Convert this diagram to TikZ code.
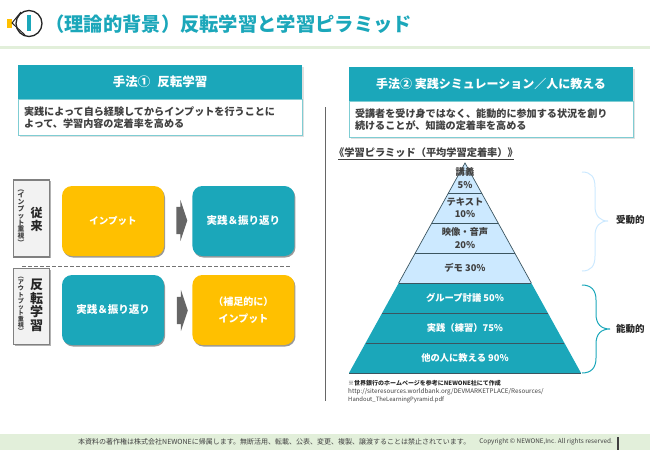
\documentclass[tikz,border=0pt]{standalone}
\usepackage{fontspec}
\setmainfont{Noto Sans CJK JP}
\usetikzlibrary{positioning,shapes.arrows,shadows}
\definecolor{teal1}{HTML}{1BA7BA}
\definecolor{teal2}{HTML}{7FCDD3}
\definecolor{gold1}{HTML}{FFC000}
\definecolor{pale1}{HTML}{CCE9FF}
\definecolor{foot1}{HTML}{E2EFDA}
\definecolor{ink1}{HTML}{404040}
\definecolor{edge1}{HTML}{3B5560}
\newcommand{\fs}[1]{\fontsize{#1}{#1}\selectfont}
\tikzset{
	headbox/.style={fill=teal1,text=white,font=\fs{12}\bfseries,minimum width=284pt,minimum height=34pt,inner sep=0pt,general shadow={shadow xshift=1.5pt,shadow yshift=-1.5pt,fill=black!12}},
	bodybox/.style={draw=teal2,line width=.7pt,fill=white,text=ink1,font=\fs{10.1}\bfseries,minimum width=284pt,minimum height=36pt,inner sep=0pt,align=left,text width=272pt,general shadow={shadow xshift=1.5pt,shadow yshift=-1.5pt,fill=black!12}},
	tile/.style={rounded corners=10pt,text=white,font=\fs{10.5}\bfseries,minimum width=102pt,minimum height=70pt,inner sep=0pt,align=center,general shadow={shadow xshift=1pt,shadow yshift=-1.5pt,fill=black!40}},
	sidebox/.style={draw=black!50,line width=1.5pt,fill=black!5,minimum width=36pt,inner sep=0pt,general shadow={shadow xshift=1pt,shadow yshift=-1pt,fill=black!30}},
	stepto/.style={single arrow,fill=black!60,minimum height=11pt,minimum width=41pt,single arrow head extend=7pt,single arrow tip angle=143,inner sep=0pt},
	pyr/.style={font=\fs{9.3}\bfseries,text=ink1,align=center,inner sep=0pt},
	pyrw/.style={font=\fs{9.3}\bfseries,text=white,align=center,inner sep=0pt},
}
\begin{document}
\begin{tikzpicture}[x=1pt,y=-1pt]
	\useasboundingbox (0,0) rectangle (650,450);

	% title
	\fill [gold1] (7,19) rectangle (12,28);
	\draw [line width=1.3pt,black!85] (29,23.5) circle (13);
	\draw [line width=1pt,black!85] (21,12)--(12,23)--(25,35);
	\fill [teal1] (27,15) rectangle (31,31);
	\node [anchor=west,inner sep=0pt,text=teal1,font=\fs{19.3}\bfseries] (title) at (45,24) {（理論的背景）反転学習と学習ピラミッド};
	\fill [foot1] (0,46) rectangle (650,49);

	% left column
	\node [headbox,font=\fs{12.5}\bfseries] (head1) at (160,82) {手法①\hspace{7pt}反転学習};
	\node [bodybox,below=0pt of head1] (body1) {実践によって自ら経験してからインプットを行うことに\\[2pt]よって、学習内容の定着率を高める};

	\node [sidebox,minimum height=77pt] (old) at (31.5,218.5) {};
	\node [align=center,inner sep=0pt,text=ink1,font=\fs{6.8}\bfseries] (oldsub) at (21,217.5) {︵\\イ\\ン\\プ\\ッ\\ト\\重\\視\\︶};
	\node [align=center,inner sep=0pt,text=black!85,font=\fs{12}\bfseries] (oldname) at (36.5,219) {従\\[1pt]来};
	\node [tile,fill=gold1,font=\fs{9.5}\bfseries] (input1) at (113,221) {インプット};
	\node [tile,fill=teal1,right=28pt of input1] (prac1) {実践＆振り返り};
	\node [stepto] (go1) at (179.5,220.5) {\rule{0pt}{27pt}};

	\draw [dash pattern=on 4pt off 2pt,line width=.8pt,black!55] (22,266)--(290,266);

	\node [sidebox,minimum height=76pt] (new) at (31.5,306.5) {};
	\node [align=center,inner sep=0pt,text=ink1,font=\fs{6.1}\bfseries] (newsub) at (21,305.5) {︵\\ア\\ウ\\ト\\プ\\ッ\\ト\\重\\視\\︶};
	\node [align=center,inner sep=0pt,text=black!85,font=\fs{13}\bfseries] (newname) at (36.5,305.5) {反\\[.7pt]転\\[.7pt]学\\[.7pt]習};
	\node [tile,fill=teal1] (prac2) at (113,310) {実践＆振り返り};
	\node [tile,fill=gold1,right=28pt of prac2,font=\fs{10}\bfseries] (input2) {（補足的に）\\[7pt]インプット};
	\node [stepto] (go2) at (180,310.5) {\rule{0pt}{27pt}};

	\draw [line width=.8pt,black!60] (325,107)--(325,401);

	% right column
	\node [headbox] (head2) at (491,84) {手法② 実践シミュレーション／人に教える};
	\node [bodybox,below=0pt of head2] (body2) {受講者を受け身ではなく、能動的に参加する状況を創り\\[2pt]続けることが、知識の定着率を高める};

	\node [anchor=west,inner sep=1pt,text=ink1,font=\fs{10.2}\bfseries] (pyrtitle) at (333,153) {《学習ピラミッド（平均学習定着率）》};
	\draw [line width=.5pt,ink1] ([xshift=5pt]pyrtitle.south west)--([xshift=-5pt]pyrtitle.south east);

	% pyramid
	\fill [pale1] (465,163)--(531.3,283)--(398.7,283)--cycle;
	\fill [teal1] (398.7,283)--(531.3,283)--(581,373)--(349,373)--cycle;
	\draw [line width=.7pt,edge1] (398.7,283)--(465,163)--(531.3,283);
	\foreach \ya/\xa/\xb in {193/448.4/481.6,223/431.9/498.1,253/415.3/514.7,283/398.7/531.3,313/382.2/547.8,343/365.6/564.4,373/349/581}
		\draw [line width=.8pt,edge1] (\xa,\ya)--(\xb,\ya);

	\node [pyr] (lv1) at (465,178) {講義\\[3pt]5\%};
	\node [pyr] (lv2) at (465,208) {テキスト\\[3pt]10\%};
	\node [pyr] (lv3) at (465,238) {映像・音声\\[3pt]20\%};
	\node [pyr] (lv4) at (465,268) {デモ 30\%};
	\node [pyrw] (lv5) at (465,298) {グループ討議 50\%};
	\node [pyrw] (lv6) at (465,328) {実践（練習）75\%};
	\node [pyrw] (lv7) at (465,358) {他の人に教える 90\%};

	% braces
	\draw [line width=1pt,pale1] (582,172) .. controls (591,172) and (595,177) .. (595,187)--(595,206) .. controls (595,216) and (600,221) .. (608,221) .. controls (600,221) and (595,226) .. (595,236)--(595,256) .. controls (595,266) and (591,271) .. (582,271);
	\draw [line width=1pt,teal1] (582,285) .. controls (591,285) and (596,290) .. (596,300)--(596,314) .. controls (596,324) and (601,329) .. (610,329) .. controls (601,329) and (596,334) .. (596,344)--(596,358) .. controls (596,368) and (591,373) .. (582,373);
	\node [anchor=west,inner sep=0pt,font=\fs{9.5}\bfseries,text=black!85] (passive) at (616,220) {受動的};
	\node [anchor=west,inner sep=0pt,font=\fs{9.5}\bfseries,text=black!85] (active) at (616,329) {能動的};

	% note
	\node [anchor=west,inner sep=0pt,font=\fs{6}\bfseries,text=black!85] (note1) at (348,383) {※世界銀行のホームページを参考にNEWONE社にて作成};
	\node [anchor=west,inner sep=0pt,font=\fs{6.3},text=ink1] (note2) at (348,391.5) {http://siteresources.worldbank.org/DEVMARKETPLACE/Resources/};
	\node [anchor=west,inner sep=0pt,font=\fs{5.9},text=ink1] (note3) at (348,400) {Handout\_TheLearningPyramid.pdf};

	% footer
	\fill [foot1] (0,434) rectangle (650,450);
	\node [anchor=west,inner sep=0pt,font=\fs{7},text=ink1] (foot) at (78,442) {本資料の著作権は株式会社NEWONEに帰属します。無断活用、転載、公表、変更、複製、譲渡することは禁止されています。};
	\node [anchor=east,inner sep=0pt,font=\fs{6.35},text=ink1] (copy) at (613,442) {Copyright © NEWONE,Inc. All rights reserved.};
	\fill [black!75] (617,437) rectangle (619,450);
\end{tikzpicture}
\end{document}
